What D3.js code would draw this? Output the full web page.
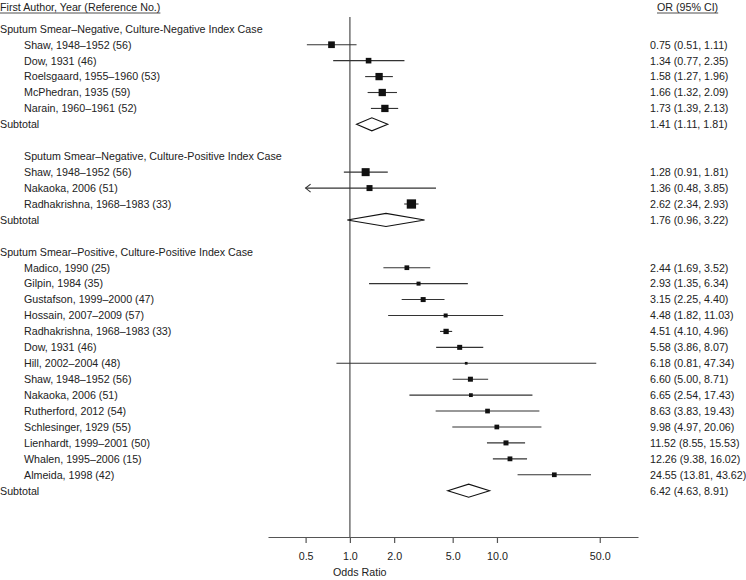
<!DOCTYPE html>
<html><head><meta charset="utf-8">
<script src="https://cdn.jsdelivr.net/npm/d3@7"></script>
<style>body{margin:0;background:#fff}svg{display:block}text{font-family:"Liberation Sans",Arial,Helvetica,sans-serif;fill:#222}</style>
</head><body>
<svg id="c" width="746" height="580"></svg>
<script>
const groupTitles = [
  "Sputum Smear–Negative, Culture-Negative Index Case",
  "Sputum Smear–Negative, Culture-Positive Index Case",
  "Sputum Smear–Positive, Culture-Positive Index Case"
];
const groupIndent = [0, 1, 0];
const studyLabels = [
  ["Shaw, 1948–1952 (56)","Dow, 1931 (46)","Roelsgaard, 1955–1960 (53)","McPhedran, 1935 (59)","Narain, 1960–1961 (52)"],
  ["Shaw, 1948–1952 (56)","Nakaoka, 2006 (51)","Radhakrishna, 1968–1983 (33)"],
  ["Madico, 1990 (25)","Gilpin, 1984 (35)","Gustafson, 1999–2000 (47)","Hossain, 2007–2009 (57)","Radhakrishna, 1968–1983 (33)","Dow, 1931 (46)","Hill, 2002–2004 (48)","Shaw, 1948–1952 (56)","Nakaoka, 2006 (51)","Rutherford, 2012 (54)","Schlesinger, 1929 (55)","Lienhardt, 1999–2001 (50)","Whalen, 1995–2006 (15)","Almeida, 1998 (42)"]
];
const studyOR = [
  [0.75,1.34,1.58,1.66,1.73],
  [1.28,1.36,2.62],
  [2.44,2.93,3.15,4.48,4.51,5.58,6.18,6.60,6.65,8.63,9.98,11.52,12.26,24.55]
];
const studyLo = [
  [0.51,0.77,1.27,1.32,1.39],
  [0.91,0.48,2.34],
  [1.69,1.35,2.25,1.82,4.10,3.86,0.81,5.00,2.54,3.83,4.97,8.55,9.38,13.81]
];
const studyHi = [
  [1.11,2.35,1.96,2.09,2.13],
  [1.81,3.85,2.93],
  [3.52,6.34,4.40,11.03,4.96,8.07,47.34,8.71,17.43,19.43,20.06,15.53,16.02,43.62]
];
const studyWeight = [
  [6.7,5.6,7.3,7.3,7.3],
  [8.0,6.0,9.3],
  [4.7,4.0,5.0,4.0,5.3,5.0,2.7,5.0,3.8,4.7,4.7,5.0,4.8,4.7]
];
const subOR = [1.41,1.76,6.42];
const subLo = [1.11,0.96,4.63];
const subHi = [1.81,3.22,8.91];
const tickValues = [0.5,1,2,5,10,50];
const tickLabels = ["0.5","1.0","2.0","5.0","10.0","50.0"];
const axisTitle = "Odds Ratio";
const leftHeader = "First Author, Year (Reference No.)";
const rightHeader = "OR (95% CI)";

const svg = d3.select("#c");
const fmt = v => v.toFixed(2);
const FS = 10.7;

// build rows
const rows = [];
groupTitles.forEach((g, gi) => {
  rows.push({type:"group", label:g, gi});
  studyLabels[gi].forEach((s, si) => rows.push({type:"study", label:s, or:studyOR[gi][si], lo:studyLo[gi][si], hi:studyHi[gi][si], w:studyWeight[gi][si]}));
  rows.push({type:"sub", label:"Subtotal", or:subOR[gi], lo:subLo[gi], hi:subHi[gi]});
  if (gi < groupTitles.length - 1) rows.push({type:"blank"});
});
rows.forEach((r, i) => r.i = i + 1);

const y = d3.scaleLinear().domain([1, 30]).range([28.8, 490.7]);
const x = d3.scaleLog().domain([0.2775, 91]).range([268, 638]);
const size = d3.scaleLinear().domain([0, 10]).range([0, 10]);
const axisY = 537;
const clipLo = 0.5;
const valX = 650;

// reference line
svg.append("line").attr("x1", x(1)).attr("x2", x(1)).attr("y1", 17).attr("y2", axisY)
  .attr("stroke", "#7a7a7a").attr("stroke-width", 1.6);

// axis
const axis = d3.axisBottom(x).tickValues(tickValues).tickFormat((d, i) => tickLabels[i]).tickSize(6).tickSizeOuter(0);
const ax = svg.append("g").attr("transform", `translate(0,${axisY})`).call(axis);
ax.select(".domain").attr("stroke", "#555").attr("stroke-width", 1.2);
ax.selectAll(".tick line").attr("stroke", "#555").attr("stroke-width", 1.2);
ax.selectAll(".tick text").attr("font-size", FS).attr("fill", "#222").attr("dy", "1.3em")
  .style("font-family", '"Liberation Sans",Arial,sans-serif');
svg.append("text").attr("x", 333).attr("y", 576).attr("font-size", FS).text(axisTitle);

// headers
const lh = svg.append("text").attr("x", 0).attr("y", 11).attr("font-size", FS).text(leftHeader);
const lw = lh.node().getComputedTextLength();
svg.append("line").attr("x1", 0).attr("x2", lw).attr("y1", 13).attr("y2", 13).attr("stroke", "#222").attr("stroke-width", 0.8);
const rh = svg.append("text").attr("x", 657).attr("y", 11).attr("font-size", FS).text(rightHeader);
const rw = rh.node().getComputedTextLength();
svg.append("line").attr("x1", 657).attr("x2", 657 + rw).attr("y1", 13).attr("y2", 13).attr("stroke", "#222").attr("stroke-width", 0.8);

// labels
rows.filter(r => r.type !== "blank").forEach(r => {
  const xx = r.type === "study" ? 24 : (r.type === "group" && groupIndent[r.gi] ? 24 : 0);
  svg.append("text").attr("x", xx).attr("y", y(r.i)).attr("dy", "0.36em").attr("font-size", FS).text(r.label);
  if (r.type !== "group") {
    svg.append("text").attr("x", valX).attr("y", y(r.i)).attr("dy", "0.36em").attr("font-size", FS)
      .text(`${fmt(r.or)} (${fmt(r.lo)}, ${fmt(r.hi)})`);
  }
});

// study marks
const st = rows.filter(r => r.type === "study");
st.forEach(r => {
  const yy = y(r.i);
  const lo = Math.max(r.lo, clipLo);
  svg.append("line").attr("x1", x(lo)).attr("x2", x(r.hi)).attr("y1", yy).attr("y2", yy)
    .attr("stroke", "#333").attr("stroke-width", 1.1);
  if (r.lo < clipLo) {
    const ax0 = x(clipLo);
    svg.append("path").attr("d", `M${ax0 + 5},${yy - 4}L${ax0},${yy}L${ax0 + 5},${yy + 4}`)
      .attr("fill", "none").attr("stroke", "#333").attr("stroke-width", 1.1);
  }
  const s = size(r.w);
  svg.append("rect").attr("x", x(r.or) - s / 2).attr("y", yy - s / 2).attr("width", s).attr("height", s).attr("fill", "#111");
});

// subtotal diamonds
rows.filter(r => r.type === "sub").forEach(r => {
  const yy = y(r.i), h = 6.5;
  svg.append("path").attr("d", `M${x(r.lo)},${yy}L${x(r.or)},${yy - h}L${x(r.hi)},${yy}L${x(r.or)},${yy + h}Z`)
    .attr("fill", "#fff").attr("stroke", "#111").attr("stroke-width", 1.1);
});
</script>
</body></html>
